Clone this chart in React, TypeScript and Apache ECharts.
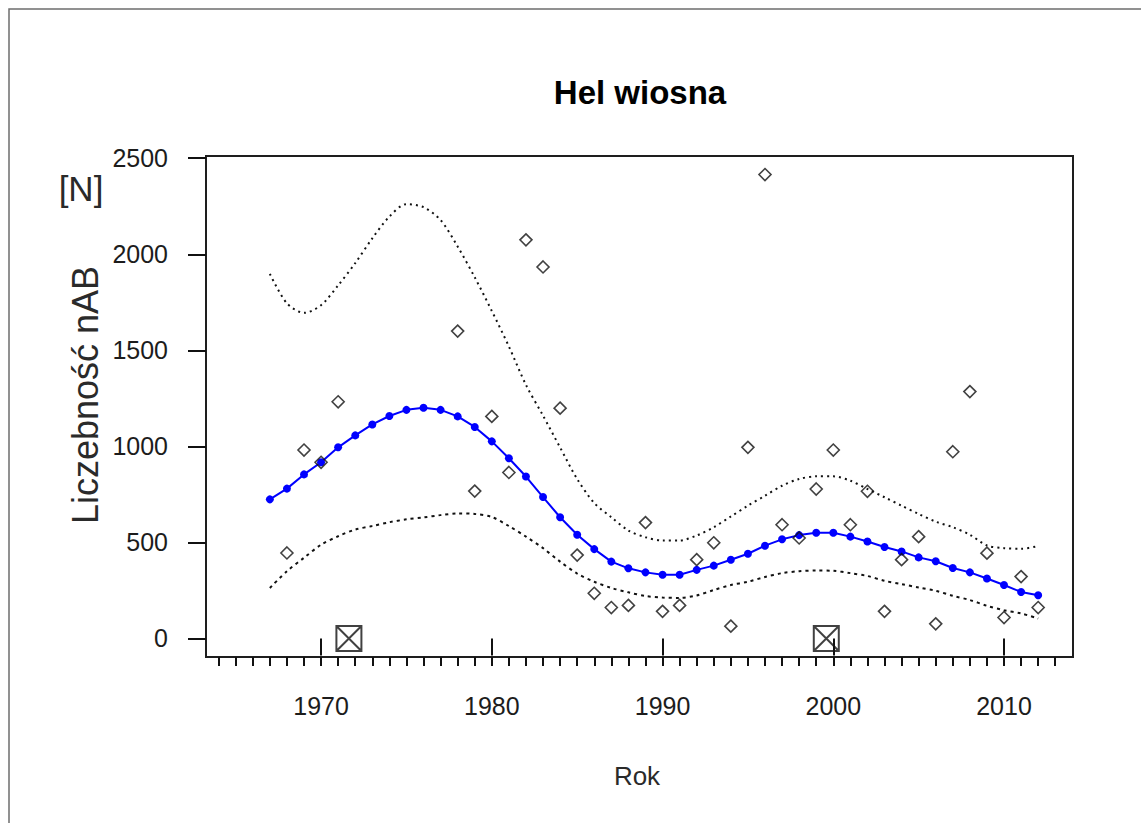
import React, { useEffect, useRef } from "react";
import * as echarts from "echarts";

// Smoothed trend (blue), one value per year 1967..2012
const fitYears = [
  1967, 1968, 1969, 1970, 1971, 1972, 1973, 1974, 1975, 1976, 1977, 1978, 1979, 1980, 1981, 1982,
  1983, 1984, 1985, 1986, 1987, 1988, 1989, 1990, 1991, 1992, 1993, 1994, 1995, 1996, 1997, 1998,
  1999, 2000, 2001, 2002, 2003, 2004, 2005, 2006, 2007, 2008, 2009, 2010, 2011, 2012,
];
const fitValues = [
  724, 780, 854, 917, 995, 1057, 1114, 1158, 1190, 1201, 1190, 1156, 1101, 1026, 938, 843,
  736, 631, 540, 465, 400, 365, 344, 332, 332, 357, 379, 410, 441, 483, 516, 538,
  550, 550, 530, 505, 476, 453, 422, 402, 367, 344, 312, 278, 242, 225,
];
const upperValues = [
  1898, 1745, 1695, 1735, 1838, 1954, 2083, 2196, 2261, 2245, 2178, 2040, 1880, 1705, 1520, 1320,
  1160, 994, 830, 705, 631, 562, 527, 510, 510, 536, 579, 635, 691, 743, 795, 830,
  844, 844, 821, 778, 735, 691, 648, 608, 579, 540, 484, 470, 467, 481,
];
const lowerValues = [
  263, 350, 420, 488, 532, 567, 585, 605, 620, 630, 642, 651, 648, 632, 585, 530,
  470, 400, 338, 295, 263, 240, 221, 213, 211, 224, 252, 278, 295, 320, 340, 350,
  354, 352, 340, 325, 300, 283, 265, 248, 222, 200, 170, 147, 130, 104,
];

// Observed counts (open diamonds)
const obsYears = [
  1968, 1969, 1970, 1971, 1978, 1979, 1980, 1981, 1982, 1983, 1984, 1985, 1986, 1987, 1988, 1989,
  1990, 1991, 1992, 1993, 1994, 1995, 1996, 1997, 1998, 1999, 2000, 2001, 2002, 2003, 2004, 2005,
  2006, 2007, 2008, 2009, 2010, 2011, 2012,
];
const obsValues = [
  445, 981, 917, 1232, 1600, 767, 1156, 864, 2075, 1934, 1199, 434, 235, 161, 172, 603,
  141, 172, 410, 498, 64, 995, 2415, 592, 523, 778, 981, 592, 766, 141, 410, 530,
  76, 972, 1285, 444, 109, 322, 161,
];

// Boxed-cross markers
const boxYears = [1971.63, 1999.59];
const boxValues = [0, 0];

// Axis ticks
const majorYears = [1970, 1980, 1990, 2000, 2010];
const minorYears = [
  1964, 1965, 1966, 1967, 1968, 1969, 1970, 1971, 1972, 1973, 1974, 1975, 1976, 1977, 1978, 1979,
  1980, 1981, 1982, 1983, 1984, 1985, 1986, 1987, 1988, 1989, 1990, 1991, 1992, 1993, 1994, 1995,
  1996, 1997, 1998, 1999, 2000, 2001, 2002, 2003, 2004, 2005, 2006, 2007, 2008, 2009, 2010, 2011,
  2012, 2013,
];
const yTicks = [0, 500, 1000, 1500, 2000, 2500];

const title = "Hel wiosna";
const xTitle = "Rok";
const yTitle = "Liczebność nAB";
const unitLabel = "[N]";

const FONT = '"Liberation Sans", Arial, Helvetica, sans-serif';

export default function App() {
  const ref = useRef<HTMLDivElement>(null);

  useEffect(() => {
    const chart = echarts.init(ref.current!, null, { renderer: "svg" });
    const xMin = 1963.26;
    const xMax = 2014.04;
    const pair = (xs: number[], ys: number[]) => xs.map((x, i) => [x, ys[i]]);
    const plain = (v: number) => String(Math.round(v));

    chart.setOption({
      animation: false,
      backgroundColor: "#ffffff",
      grid: {
        left: 206,
        top: 156,
        width: 867,
        height: 501,
        show: true,
        borderColor: "#1e1e1e",
        borderWidth: 2,
        backgroundColor: "transparent",
        containLabel: false,
      },
      xAxis: [
        {
          type: "value",
          min: xMin,
          max: xMax,
          position: "bottom",
          axisLine: { show: false },
          splitLine: { show: false },
          axisTick: {
            show: true,
            customValues: majorYears,
            length: 17,
            lineStyle: { color: "#111", width: 2 },
          },
          axisLabel: {
            customValues: majorYears,
            formatter: plain,
            margin: 36,
            fontSize: 25,
            color: "#1c1c1c",
            fontFamily: FONT,
          },
        },
        {
          type: "value",
          min: xMin,
          max: xMax,
          position: "bottom",
          axisLine: { show: false },
          splitLine: { show: false },
          axisTick: {
            show: true,
            customValues: minorYears,
            length: 9,
            lineStyle: { color: "#111", width: 2 },
          },
          axisLabel: { show: false },
        },
      ],
      yAxis: {
        type: "value",
        min: -96.6,
        max: 2511.6,
        axisLine: { show: false },
        splitLine: { show: false },
        axisTick: {
          show: true,
          customValues: yTicks,
          length: 18,
          lineStyle: { color: "#111", width: 2 },
        },
        axisLabel: {
          customValues: yTicks,
          formatter: plain,
          margin: 38,
          fontSize: 25,
          color: "#1c1c1c",
          fontFamily: FONT,
        },
      },
      series: [
        {
          type: "line",
          data: pair(fitYears, upperValues),
          showSymbol: false,
          symbol: "none",
          smooth: 0.3,
          lineStyle: { color: "#111", width: 2, type: [2, 4] },
          z: 2,
        },
        {
          type: "line",
          data: pair(fitYears, lowerValues),
          showSymbol: false,
          symbol: "none",
          smooth: 0.3,
          lineStyle: { color: "#111", width: 2, type: [3, 4] },
          z: 2,
        },
        {
          type: "line",
          data: pair(fitYears, fitValues),
          symbol: "circle",
          symbolSize: 8,
          showSymbol: true,
          lineStyle: { color: "#0000ff", width: 2 },
          itemStyle: { color: "#0000ff" },
          z: 3,
        },
        {
          type: "scatter",
          data: pair(obsYears, obsValues),
          symbol: "path://M5,0L10,5L5,10L0,5Z",
          symbolSize: 12,
          itemStyle: { color: "transparent", borderColor: "#111", borderWidth: 1.6 },
          z: 4,
        },
        {
          type: "scatter",
          data: pair(boxYears, boxValues),
          symbol: "path://M0,0H10V10H0ZM0,0L10,10M10,0L0,10",
          symbolSize: 25,
          itemStyle: { color: "transparent", borderColor: "#111", borderWidth: 2 },
          z: 4,
        },
      ],
      graphic: [
        {
          type: "rect",
          silent: true,
          shape: { x: 9, y: 9, width: 1400, height: 1000 },
          style: { fill: "none", stroke: "#6e6e6e", lineWidth: 1.5 },
        },
        {
          type: "text",
          x: 640,
          y: 92,
          style: {
            text: title,
            font: `bold 33px ${FONT}`,
            fill: "#000",
            textAlign: "center",
            textVerticalAlign: "middle",
          },
        },
        {
          type: "text",
          x: 81,
          y: 188,
          style: {
            text: unitLabel,
            font: `35px ${FONT}`,
            fill: "#2a2a2a",
            textAlign: "center",
            textVerticalAlign: "middle",
          },
        },
        {
          type: "text",
          x: 85,
          y: 395,
          rotation: Math.PI / 2,
          style: {
            text: yTitle,
            font: `36px ${FONT}`,
            fill: "#2a2a2a",
            textAlign: "center",
            textVerticalAlign: "middle",
          },
        },
        {
          type: "text",
          x: 637,
          y: 776,
          style: {
            text: xTitle,
            font: `26px ${FONT}`,
            fill: "#2a2a2a",
            textAlign: "center",
            textVerticalAlign: "middle",
          },
        },
      ],
    });

    return () => chart.dispose();
  }, []);

  return (
    <div
      ref={ref}
      style={{ position: "absolute", left: 0, top: 0, width: 1141, height: 823 }}
    />
  );
}
